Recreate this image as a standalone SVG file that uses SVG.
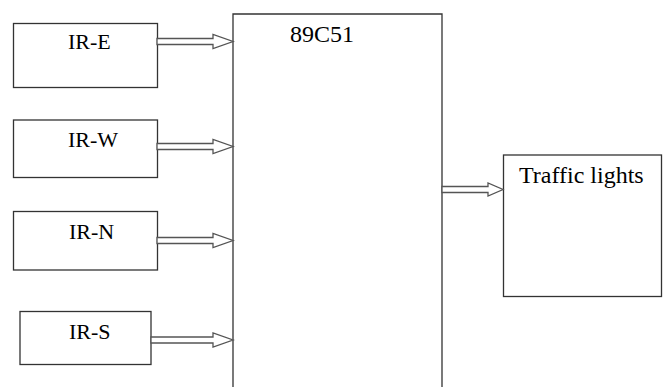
<svg xmlns="http://www.w3.org/2000/svg" width="666" height="387" viewBox="0 0 666 387">
<style>
.box{fill:#fff;stroke:#333;stroke-width:1.3}
.arr{fill:#fff;stroke:#555;stroke-width:1.3;stroke-linejoin:miter}
.t{font-family:'Liberation Serif','DejaVu Serif',serif;font-size:22px;fill:#000}
.big{font-size:24px}
</style>
<rect width="666" height="387" fill="#fff"/>
<g id="mcu">
<path class="box" d="M233,387 V14 H442 V387" fill="none"/>
<text class="t big" x="290" y="41.5">89C51</text>
</g>
<g id="ir-e">
<rect class="box" x="13.5" y="23.5" width="144" height="64"/>
<text class="t" x="68" y="49">IR-E</text>
</g>
<g id="ir-w">
<rect class="box" x="13.5" y="120" width="144" height="57.5"/>
<text class="t" x="68" y="146.5">IR-W</text>
</g>
<g id="ir-n">
<rect class="box" x="13.5" y="211.5" width="144" height="58.5"/>
<text class="t" x="69" y="238.5">IR-N</text>
</g>
<g id="ir-s">
<rect class="box" x="20" y="311.5" width="131" height="53"/>
<text class="t" x="69" y="338.5">IR-S</text>
</g>
<g id="traffic">
<rect class="box" x="503.5" y="155" width="158" height="141.5"/>
<text class="t big" x="519" y="183">Traffic lights</text>
</g>
<g id="connectors">
<path class="arr" d="M157,38.5 H213 V34.5 L233,41.5 L213,48.5 V44.5 H157 Z"/>
<path class="arr" d="M157,143.5 H213 V139.5 L233,146.5 L213,153.5 V149.5 H157 Z"/>
<path class="arr" d="M157,237.5 H213 V233.5 L233,240.5 L213,247.5 V243.5 H157 Z"/>
<path class="arr" d="M151,337 H213 V333 L233,340 L213,347 V343 H151 Z"/>
<path class="arr" d="M442,186.5 H488 V183 L503,189.5 L488,196 V192.5 H442 Z"/>
</g>
</svg>
